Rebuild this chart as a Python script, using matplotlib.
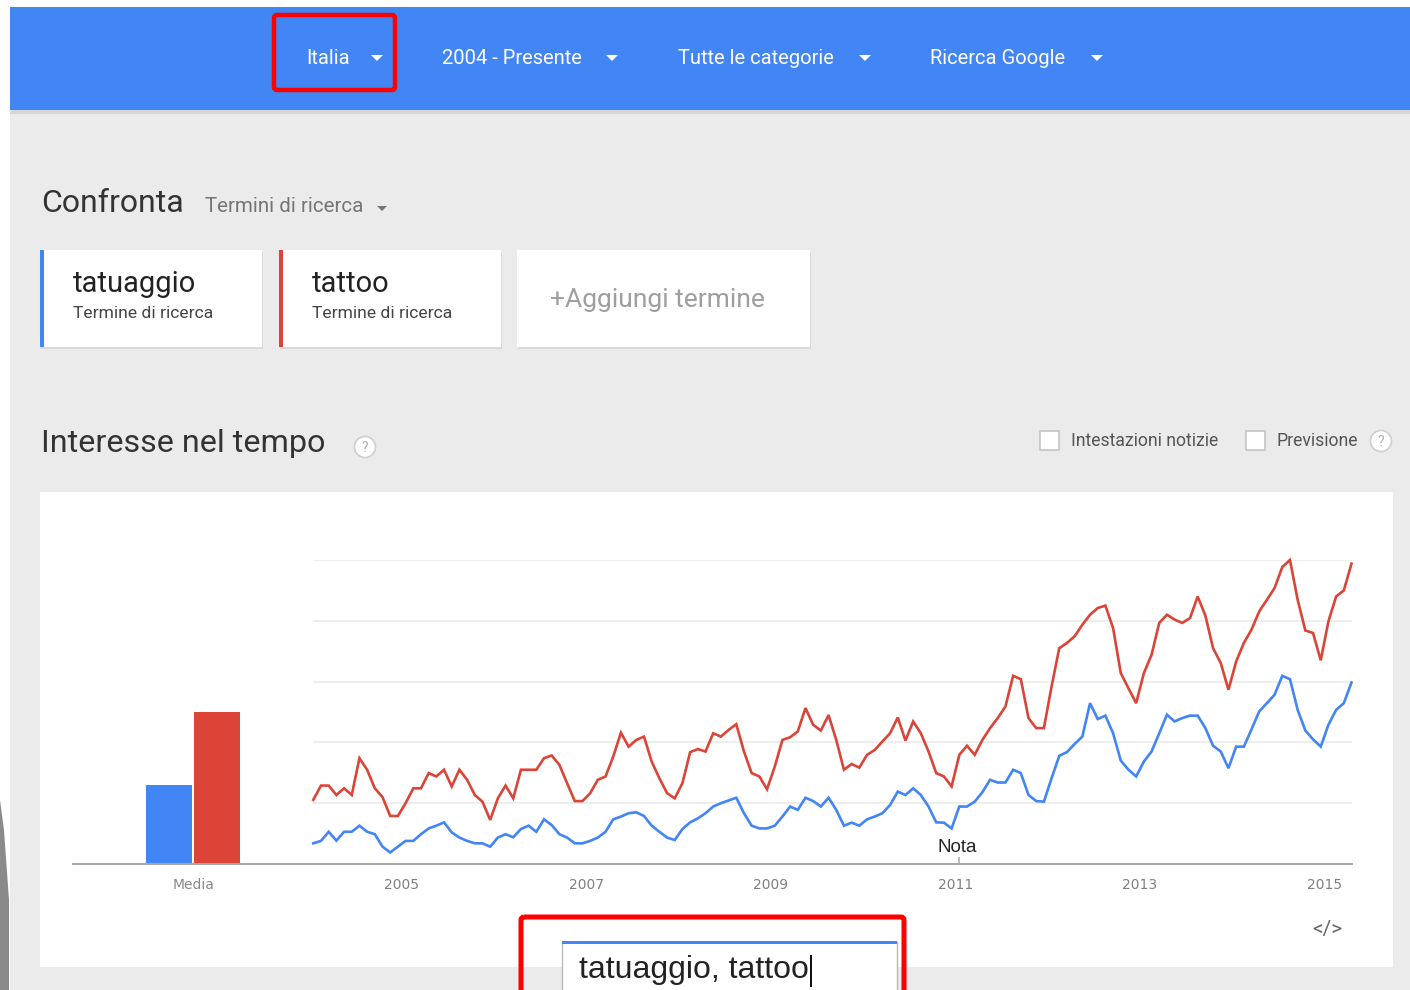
import matplotlib
matplotlib.use("Agg")
import matplotlib.pyplot as plt
from matplotlib.patches import Rectangle, FancyBboxPatch, Polygon, Circle

# monthly interest, Jan 2004 .. Apr 2015
tatuaggio = [
    6.8, 7.6, 10.6, 7.7, 10.6, 10.6, 12.6, 10.6, 9.8, 5.7, 3.8, 5.7,
    7.6, 7.6, 9.8, 11.7, 12.6, 13.7, 10.4, 8.7, 7.6, 6.8, 6.8, 5.7,
    8.7, 9.8, 8.8, 11.5, 12.6, 10.6, 14.7, 12.8, 9.8, 8.7, 6.8, 6.8,
    7.6, 8.7, 10.6, 14.7, 15.6, 16.7, 17.0, 15.8, 12.6, 10.6, 8.7, 7.9,
    11.5, 13.7, 15.0, 16.7, 18.9, 20.0, 20.9, 21.8, 16.7, 12.6, 11.7, 11.7,
    12.6, 15.6, 18.9, 17.8, 21.8, 20.7, 18.9, 21.8, 17.8, 12.6, 13.6, 12.6,
    14.7, 15.6, 16.7, 19.4, 23.8, 22.7, 24.9, 22.7, 18.9, 13.7, 13.6, 11.7,
    18.9, 18.9, 20.5, 23.6, 27.7, 26.8, 26.8, 31.0, 29.9, 22.7, 20.7, 20.5,
    28.2, 35.6, 36.8, 39.5, 41.9, 52.9, 47.7, 48.8, 43.0, 34.0, 31.0, 28.8,
    33.7, 37.0, 43.0, 49.1, 46.9, 48.0, 48.8, 48.8, 44.7, 38.9, 37.0, 31.5,
    38.6, 38.6, 44.3, 50.2, 52.9, 55.7, 61.9, 60.8, 50.7, 43.9, 41.0, 38.6,
    45.8, 50.7, 52.9, 59.7,
]
tattoo = [
    21.1, 25.8, 25.8, 22.7, 24.9, 22.7, 34.8, 31.0, 24.9, 22.0, 15.8, 15.8,
    20.0, 24.9, 24.9, 29.9, 28.8, 31.0, 25.5, 31.0, 27.7, 22.7, 20.5, 14.5,
    21.6, 25.8, 21.6, 31.0, 31.0, 31.0, 34.8, 35.7, 32.6, 26.6, 20.7, 20.7,
    23.3, 27.7, 28.8, 35.3, 43.2, 38.6, 40.8, 41.9, 33.7, 28.2, 23.3, 21.6,
    26.6, 36.8, 37.8, 37.0, 43.0, 41.9, 44.1, 46.0, 37.0, 29.9, 28.8, 24.6,
    32.0, 40.8, 41.7, 43.6, 51.3, 45.8, 43.9, 49.0, 40.8, 31.0, 32.9, 31.7,
    35.9, 37.5, 40.3, 43.0, 48.2, 40.6, 46.9, 43.0, 37.0, 29.9, 28.8, 25.5,
    35.9, 38.9, 35.9, 40.8, 44.7, 48.0, 51.8, 61.9, 60.8, 48.0, 44.7, 44.7,
    58.4, 71.0, 72.7, 74.9, 78.7, 82.0, 84.2, 85.0, 77.6, 62.8, 57.8, 52.9,
    62.8, 68.8, 79.3, 82.0, 80.4, 79.3, 80.9, 88.0, 81.7, 71.0, 66.1, 57.3,
    66.6, 72.7, 77.1, 83.1, 86.9, 90.8, 97.7, 100.0, 86.9, 76.8, 76.0, 67.0,
    79.8, 88.0, 90.0, 98.8,
]
averages = [26, 50]  # "Media" bars: tatuaggio, tattoo
year_labels = [2005, 2007, 2009, 2011, 2013, 2015]
nota_month = 84  # Jan 2011

header_items = ["Italia", "2004 - Presente", "Tutte le categorie", "Ricerca Google"]
terms = ["tatuaggio", "tattoo"]

BLUE = "#4285f4"
RED = "#db4437"
BG = "#ebebeb"
DARK = "#333333"
GREY = "#757575"

W, H = 1410, 990
fig = plt.figure(figsize=(W / 100, H / 100), dpi=100)
fig.patch.set_facecolor("white")

# page layer in pixel coordinates
ui = fig.add_axes([0, 0, 1, 1])
ui.set_xlim(0, W)
ui.set_ylim(H, 0)
ui.axis("off")
ui.add_patch(Rectangle((10, 7), W - 10, H - 7, color=BG, lw=0))
ui.add_patch(Polygon([(0, 800), (4, 830), (9, 900), (9, 990), (0, 990)],
                     closed=True, color="#8a8a8a", lw=0))

# header bar
ui.add_patch(Rectangle((10, 110), W - 10, 4, color="#d6d6d6", lw=0))
ui.add_patch(Rectangle((10, 7), W - 10, 103, color=BLUE, lw=0))
hx = [306, 442, 678, 930]
arrows = [377, 612, 865, 1097]
for label, x, ax_ in zip(header_items, hx, arrows):
    ui.text(x, 58, label, color="white", fontsize=14.5, family="Roboto",
            va="center", ha="left")
    ui.add_patch(Polygon([(ax_ - 6, 55), (ax_ + 6, 55), (ax_, 61)],
                         closed=True, color="white", lw=0))
ui.add_patch(FancyBboxPatch((274, 15), 121, 75, boxstyle="round,pad=0,rounding_size=3",
                            fill=False, ec="#ff0000", lw=3.2))

# compare section
ui.text(41, 203, "Confronta", color=DARK, fontsize=23, family="Roboto", va="center")
ui.text(205, 206, "Termini di ricerca", color=GREY, fontsize=14.8, family="Roboto",
        va="center")
ui.add_patch(Polygon([(377, 206), (387, 206), (382, 211)], closed=True, color=GREY, lw=0))

cards = [(40, 222, BLUE), (279, 222, RED)]
for term, (cx, cw, col) in zip(terms, cards):
    ui.add_patch(Rectangle((cx + 1, 252), cw, 97, color="#d9d9d9", lw=0))
    ui.add_patch(Rectangle((cx, 250), cw, 97, color="white", lw=0))
    ui.add_patch(Rectangle((cx, 250), 4, 97, color=col, lw=0))
    ui.text(cx + 33, 284, term, color="#222222", fontsize=21, family="Roboto",
            va="center")
    ui.text(cx + 33, 313, "Termine di ricerca", color="#444444", fontsize=12.6,
            family="Roboto", va="center")
ui.add_patch(Rectangle((518, 252), 293, 97, color="#d9d9d9", lw=0))
ui.add_patch(Rectangle((517, 250), 293, 97, color="white", lw=0))
ui.text(550, 300, "+Aggiungi termine", color="#9e9e9e", fontsize=19,
        family="Roboto", va="center")

# interest over time header
ui.text(41, 444, "Interesse nel tempo", color=DARK, fontsize=23.2, family="Roboto",
        va="center")


def help_icon(x, y):
    ui.add_patch(Circle((x, y), 10.5, fc="white", ec="#cfcfcf", lw=1.2))
    ui.text(x, y + 1, "?", color="#b0b0b0", fontsize=10, family="Roboto",
            ha="center", va="center")


help_icon(365, 447)
help_icon(1381, 441)
for bx, label in [(1040, "Intestazioni notizie"), (1246, "Previsione")]:
    ui.add_patch(Rectangle((bx, 431), 19, 19, fc="white", ec="#c4c4c4", lw=1.2))
    ui.text(bx + 31, 441, label, color="#555555", fontsize=12.7, family="Roboto",
            va="center")

# chart panel
ui.add_patch(Rectangle((40, 492), 1353, 475, color="white", lw=0))
ui.text(1327, 929, "</>", color="#666666", fontsize=15, family="Roboto",
        ha="center", va="center")

# search box at the bottom
ui.add_patch(Rectangle((562, 942), 335, 60, fc="white", ec="#b9b9b9", lw=1))
ui.add_patch(Rectangle((562, 941), 335, 2.5, color=BLUE, lw=0))
ui.text(579, 970, "tatuaggio, tattoo", color="#222222", fontsize=23,
        family="Liberation Sans", va="center")
ui.add_patch(Rectangle((810, 955), 1.5, 32, color="#111111", lw=0))
ui.add_patch(FancyBboxPatch((521, 917), 383, 90, boxstyle="round,pad=0,rounding_size=3",
                            fill=False, ec="#ff0000", lw=3.6))


def frac_box(x0, x1, ytop, ybot):
    return [x0 / W, 1 - ybot / H, (x1 - x0) / W, (ybot - ytop) / H]


# line chart
x0, x1 = 313.3, 1351.5
months = list(range(len(tattoo)))
lax = fig.add_axes(frac_box(x0, x1, 560, 864))
lax.set_facecolor("none")
lax.set_xlim(0, len(tattoo) - 1)
lax.set_ylim(0, 100)
for g in range(20, 101, 20):
    lax.axhline(g, color="#ebebeb", lw=1.2, zorder=1)
lax.plot(months, tatuaggio, color=BLUE, lw=1.9, zorder=3, clip_on=False,
         solid_joinstyle="miter")
lax.plot(months, tattoo, color=RED, lw=1.9, zorder=3, clip_on=False,
         solid_joinstyle="miter")
lax.set_xticks([(y - 2004) * 12 - 0.5 for y in year_labels])
lax.set_xticklabels([str(y) for y in year_labels])
lax.tick_params(axis="x", length=0, pad=10, labelsize=10, labelcolor="#808080")
lax.set_yticks([])
for side in ["top", "left", "right"]:
    lax.spines[side].set_visible(False)
lax.spines["bottom"].set_color("#a8a8a8")
lax.spines["bottom"].set_linewidth(1.4)
lax.plot([nota_month, nota_month], [0, 2], color="#bbbbbb", lw=1.4, clip_on=False)
lax.text(nota_month - 0.3, 5.3, "Nota", color="#222222", fontsize=13.5,
         family="Liberation Sans", ha="center", va="center")

# average bars
bax = fig.add_axes(frac_box(73, x0, 560, 864))
bax.set_facecolor("none")
bax.set_xlim(0, 1)
bax.set_ylim(0, 100)
bax.bar([0.4, 0.6], averages, width=0.19, color=[BLUE, RED], zorder=2)
bax.set_xticks([0.5])
bax.set_xticklabels(["Media"])
bax.tick_params(axis="x", length=0, pad=10, labelsize=10, labelcolor="#8a8a8a")
bax.set_yticks([])
for side in ["top", "left", "right"]:
    bax.spines[side].set_visible(False)
bax.spines["bottom"].set_color("#a8a8a8")
bax.spines["bottom"].set_linewidth(1.4)

fig.savefig("out.png", dpi=100)
